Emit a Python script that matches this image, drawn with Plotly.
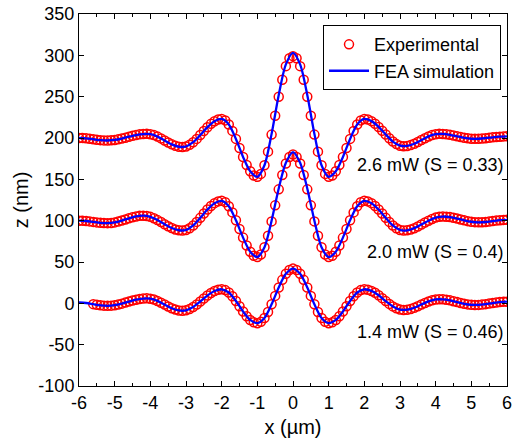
import plotly.graph_objects as go

# x sample grids (µm)
x_exp = [round(-6 + 0.1 * i, 1) for i in range(121)]
x_sim = [round(-6 + 0.2 * i, 1) for i in range(61)]

# Experimental z (nm) at 0.1 µm steps
exp_26 = [200, 200, 199.6, 199.1, 198.5, 197.9, 197.4, 197.1, 197,
          197.2, 197.6, 198.4, 199.3, 200.4, 201.6, 202.7, 203.6, 204.4, 204.8, 205,
          204.6, 203.5, 201.7, 199.5, 197, 194.5, 192.3, 190.5, 189.4, 189,
          189.7, 191.7, 194.9, 198.9, 203.6, 208.4, 213.1, 217.1, 220.3, 222.3, 223,
          221.3, 216.4, 208.6, 198.9, 188, 177.1, 167.4, 159.7, 154.7, 153,
          156.6, 167.1, 183.5, 204.1, 227, 249.9, 270.5, 286.9, 296.4, 299,
          296.4, 286.9, 270.5, 249.9, 227, 204.1, 183.5, 167.1, 156.6, 153,
          154.7, 159.7, 167.4, 177.1, 188, 198.9, 208.6, 216.4, 221.3, 223,
          222.3, 220.4, 217.3, 213.4, 208.8, 204.2, 199.6, 195.7, 192.6, 190.7, 190,
          190.4, 191.4, 193.1, 195.2, 197.5, 199.8, 201.9, 203.6, 204.6, 205,
          204.9, 204.4, 203.8, 202.9, 202, 201.1, 200.2, 199.6, 199.1, 199,
          199.1, 199.4, 199.8, 200.2, 200.8, 201.3, 201.6, 201.9, 202]

exp_20 = [100, 99.9, 99.6, 99.1, 98.5, 97.9, 97.4, 97.1, 97,
          97.2, 97.9, 98.9, 100.1, 101.5, 102.9, 104.1, 105.1, 105.8, 106,
          105.6, 104.6, 102.9, 100.7, 98.3, 95.7, 93.3, 91.1, 89.4, 88.4, 88,
          88.7, 90.8, 94.2, 98.5, 103.4, 108.6, 113.5, 117.8, 121.2, 123.3, 124,
          122.4, 117.5, 110, 100.5, 90, 79.5, 70, 62.5, 57.6, 56,
          59, 67.9, 81.8, 99.1, 118.5, 137.9, 155.3, 169.1, 177, 180,
          177, 169.1, 155.3, 137.9, 118.5, 99.1, 81.8, 67.9, 59, 56,
          57.6, 62.5, 70, 79.5, 90, 100.5, 110, 117.5, 122.4, 124,
          123.3, 121.2, 117.8, 113.5, 108.6, 103.4, 98.5, 94.2, 90.8, 88.7, 88,
          88.3, 89.3, 90.9, 93, 95.3, 97.7, 100, 102.1, 103.7, 104.7, 105,
          104.8, 104.3, 103.6, 102.6, 101.5, 100.4, 99.4, 98.7, 98.2, 98,
          98.1, 98.4, 98.9, 99.5, 100.1, 100.6, 100.9, 101]

exp_14 = [None, None, None, None, -1, -1.8, -2.4, -2.8, -3,
          -2.8, -2.3, -1.4, -0.4, 0.9, 2.1, 3.4, 4.4, 5.3, 5.8, 6,
          5.6, 4.6, 2.9, 0.8, -1.5, -3.8, -5.9, -7.6, -8.6, -9,
          -8.5, -6.9, -4.5, -1.4, 2.2, 5.8, 9.4, 12.5, 14.9, 16.5, 17,
          16, 13.1, 8.6, 2.9, -3.5, -9.9, -15.6, -20.1, -23, -24,
          -22.4, -17.7, -10.4, -1.2, 9, 19.2, 28.4, 35.7, 40.4, 42,
          40.4, 35.7, 28.4, 19.2, 9, -1.2, -10.4, -17.7, -22.4, -24,
          -23, -20.1, -15.6, -9.9, -3.5, 2.9, 8.6, 13.1, 16, 17,
          16.5, 15, 12.7, 9.7, 6.3, 2.7, -0.7, -3.7, -6, -7.5, -8,
          -7.7, -6.8, -5.3, -3.5, -1.5, 0.5, 2.3, 3.8, 4.7, 5,
          4.8, 4.3, 3.6, 2.6, 1.5, 0.4, -0.6, -1.3, -1.8, -2,
          -1.9, -1.5, -1, -0.3, 0.3, 1, 1.5, 1.9, 2]

# FEA simulation z (nm) at 0.2 µm steps
sim_26 = [200, 199.6, 198.5, 197.4, 197, 197.6, 199.3, 201.6, 203.6, 204.8,
          204.6, 201.7, 197, 192.3, 189.4, 189.7, 194.9, 203.6, 213.1, 220.3,
          223, 216.4, 198.9, 177.1, 159.7, 153, 167.1, 205, 252, 289,
          303, 289, 252, 205, 167.1, 153, 159.7, 177.1, 198.9, 216.4,
          223, 220.4, 213.4, 204.2, 195.7, 190.7, 190.4, 193.1, 197.5, 201.9,
          204.6, 204.9, 203.8, 202, 200.2, 199.1, 199.1, 199.8, 200.8, 201.6, 202]

sim_20 = [100, 99.6, 98.5, 97.4, 97, 97.9, 100.1, 102.9, 105.1, 106,
          104.6, 100.7, 95.7, 91.1, 88.4, 88.7, 94.2, 103.4, 113.5, 121.2,
          124, 117.5, 100.5, 79.5, 62.5, 56, 67.9, 100, 139, 170,
          183, 170, 139, 100, 67.9, 56, 62.5, 79.5, 100.5, 117.5,
          124, 121.2, 113.5, 103.4, 94.2, 88.7, 88.3, 90.9, 95.3, 100,
          103.7, 105, 104.3, 102.6, 100.4, 98.7, 98, 98.4, 99.5, 100.6, 101]

sim_14 = [1, 0.4, -1, -2.4, -3, -2.3, -0.4, 2.1, 4.4, 5.8,
          5.6, 2.9, -1.5, -5.9, -8.6, -8.5, -4.5, 2.2, 9.4, 14.9,
          17, 13.1, 2.9, -9.9, -20.1, -24, -17.7, -1.2, 19.2, 35.7,
          42, 35.7, 19.2, -1.2, -17.7, -24, -20.1, -9.9, 2.9, 13.1,
          17, 15, 9.7, 2.7, -3.7, -7.5, -7.7, -5.3, -1.5, 2.3,
          4.7, 4.8, 3.6, 1.5, -0.6, -1.8, -1.9, -1, 0.3, 1.5, 2]

labels = ["2.6 mW (S = 0.33)", "2.0 mW (S = 0.4)", "1.4 mW (S = 0.46)"]
label_y = [167, 62, -35]

x_ticks = [-6, -5, -4, -3, -2, -1, 0, 1, 2, 3, 4, 5, 6]
x_ticktext = ["-6", "-5", "-4", "-3", "-2", "-1", "0", "1", "2", "3", "4", "5", "6"]
y_ticks = [-100, -50, 0, 50, 100, 150, 200, 250, 300, 350]
y_ticktext = ["-100", "-50", "0", "50", "100", "150", "200", "250", "300", "350"]

FONT = "Liberation Sans, Arial, sans-serif"
fig = go.Figure()

for i, ys in enumerate([exp_26, exp_20, exp_14]):
    fig.add_trace(go.Scatter(
        x=x_exp, y=ys, mode="markers", name="Experimental",
        showlegend=(i == 0), legendgroup="exp",
        marker=dict(symbol="circle-open", size=9, color="#ff0000",
                    line=dict(width=1.5, color="#ff0000"))))

for i, ys in enumerate([sim_26, sim_20, sim_14]):
    fig.add_trace(go.Scatter(
        x=x_sim, y=ys, mode="lines", name="FEA simulation",
        showlegend=(i == 0), legendgroup="sim",
        line=dict(color="#0000ff", width=2.3, shape="spline", smoothing=0.8)))

for t, yv in zip(labels, label_y):
    fig.add_annotation(x=5.97, y=yv, text=t, showarrow=False, xanchor="right",
                       yanchor="middle", font=dict(size=18, color="black", family=FONT))

# last x tick label drawn as an annotation so it is not dropped at the page edge
fig.add_annotation(x=x_ticks[-1], y=0, xref="x", yref="paper", text=x_ticktext[-1],
                   showarrow=False, xanchor="center", yanchor="top", yshift=-5,
                   font=dict(size=18, color="black", family=FONT))

axis_common = dict(showline=True, linecolor="black", linewidth=1, mirror="ticks",
                   ticks="inside", tickcolor="black", ticklen=5, showgrid=False,
                   zeroline=False, tickfont=dict(size=18, color="black", family=FONT))

fig.update_xaxes(range=[-6, 6], tickmode="array", tickvals=x_ticks,
                 ticktext=x_ticktext[:-1] + [""], automargin=False,
                 minor=dict(dtick=0.5, tick0=-6, ticks="inside", ticklen=3, tickcolor="black", showgrid=False),
                 title=dict(text="x (µm)", font=dict(size=20, color="black", family=FONT), standoff=8),
                 **axis_common)
fig.update_yaxes(range=[-100, 350], tickmode="array", tickvals=y_ticks, ticktext=y_ticktext,
                 automargin=False,
                 title=dict(text="z (nm)", font=dict(size=20, color="black", family=FONT), standoff=4),
                 **axis_common)

fig.update_layout(
    width=512, height=446,
    margin=dict(l=79, r=5, t=14, b=60),
    paper_bgcolor="white", plot_bgcolor="white",
    font=dict(family=FONT, size=18, color="black"),
    legend=dict(x=0.986, y=0.97, xanchor="right", yanchor="top",
                bgcolor="white", bordercolor="black", borderwidth=1,
                font=dict(size=18, family=FONT, color="black"),
                tracegroupgap=0, itemwidth=40),
)

fig.write_html("out.html")
